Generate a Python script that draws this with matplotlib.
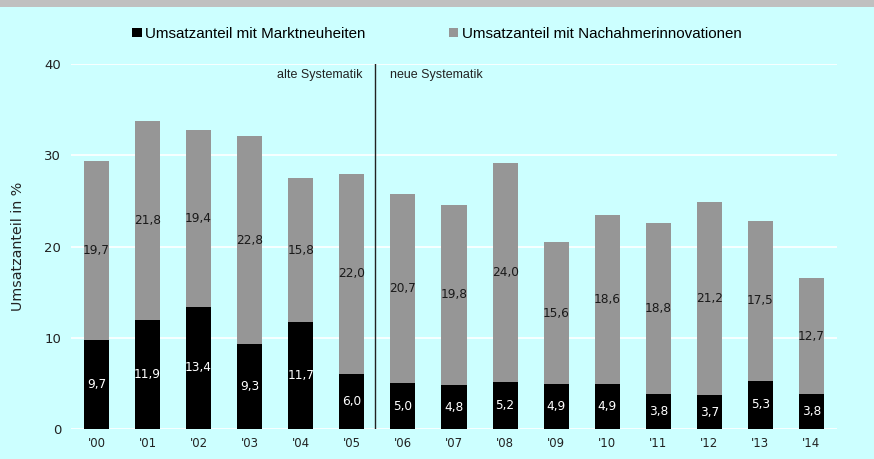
import matplotlib
matplotlib.use("Agg")
import matplotlib.pyplot as plt
from matplotlib.patches import Rectangle
import numpy as np

years = ["'00", "'01", "'02", "'03", "'04", "'05", "'06", "'07", "'08", "'09",
         "'10", "'11", "'12", "'13", "'14"]
markt = [9.7, 11.9, 13.4, 9.3, 11.7, 6.0, 5.0, 4.8, 5.2, 4.9, 4.9, 3.8, 3.7, 5.3, 3.8]
nachahmer = [19.7, 21.8, 19.4, 22.8, 15.8, 22.0, 20.7, 19.8, 24.0, 15.6, 18.6, 18.8, 21.2, 17.5, 12.7]
series_names = ["Umsatzanteil mit Marktneuheiten", "Umsatzanteil mit Nachahmerinnovationen"]

bg = "#CCFFFF"
fig = plt.figure(figsize=(8.74, 4.59), dpi=100, facecolor=bg)
fig.patches.append(Rectangle((0, 1 - 7/459), 1, 7/459, transform=fig.transFigure,
                             facecolor="#C0C0C0", edgecolor="none"))
ax = fig.add_axes([71/874, 30/459, 766/874, 365/459])
ax.set_facecolor(bg)

x = np.arange(len(years))
w = 0.49
b1 = ax.bar(x, markt, w, color="black", label=series_names[0], zorder=3)
b2 = ax.bar(x, nachahmer, w, bottom=markt, color="#969696", label=series_names[1], zorder=3)

for i in range(len(years)):
    ax.text(x[i], markt[i] / 2, f"{markt[i]:.1f}".replace(".", ","), ha="center", va="center",
            color="white", fontsize=8.7, family="DejaVu Sans", zorder=4)
    ax.text(x[i], markt[i] + nachahmer[i] / 2, f"{nachahmer[i]:.1f}".replace(".", ","),
            ha="center", va="center", color="#1a1a1a", fontsize=8.7, family="DejaVu Sans", zorder=4)

ax.set_xlim(-0.5, len(years) - 0.5)
ax.set_ylim(0, 40)
ax.set_yticks([0, 10, 20, 30, 40])
ax.grid(axis="y", color="white", lw=1.2, zorder=1)
ax.set_axisbelow(True)
for s in ax.spines.values():
    s.set_visible(False)
ax.set_xticks(x)
ax.set_xticklabels(years, fontsize=8.5, family="DejaVu Sans", color="#222222")
ax.tick_params(axis="both", length=0)
ax.tick_params(axis="x", pad=6)
ax.tick_params(axis="y", pad=7, labelsize=9.5, labelcolor="#222222")
ax.set_ylabel("Umsatzanteil in %", fontsize=10.3, family="DejaVu Sans", color="#222222", labelpad=14)

ax.axvline(5.45, ymin=0, ymax=1, color="#222222", lw=1, zorder=5)
ax.text(5.2, 38.8, "alte Systematik", ha="right", va="center", fontsize=9,
        family="Liberation Sans", color="#222222")
ax.text(5.75, 38.8, "neue Systematik", ha="left", va="center", fontsize=9,
        family="Liberation Sans", color="#222222")

fig.legend(handles=[b1, b2], labels=series_names, loc="center", bbox_to_anchor=(0.5, 1 - 34/459),
           ncol=2, frameon=False, handlelength=0.6, handleheight=0.6, handletextpad=0.25,
           columnspacing=5.5, prop={"family": "Liberation Sans", "size": 10.9})

fig.savefig("out.png", dpi=100, facecolor=bg)
